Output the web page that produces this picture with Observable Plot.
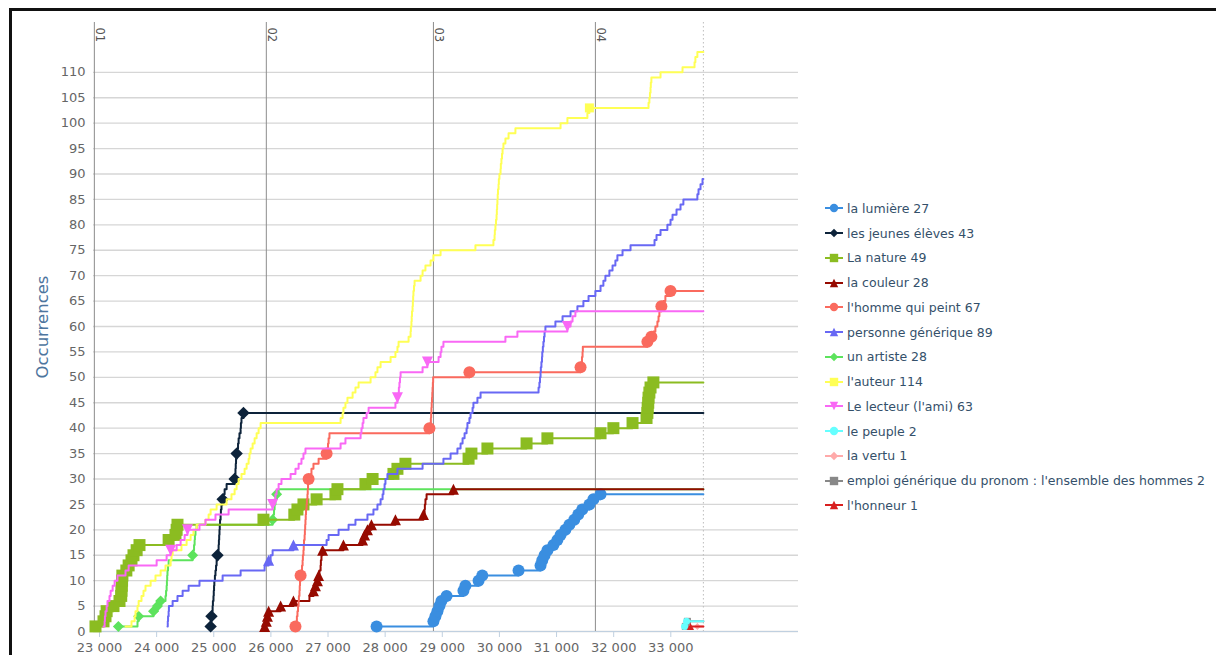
<!DOCTYPE html>
<html><head><meta charset="utf-8">
<script src="https://cdn.jsdelivr.net/npm/d3@7"></script>
<script src="https://cdn.jsdelivr.net/npm/@observablehq/plot@0.6"></script>
<style>
html,body{margin:0;padding:0;background:#fff;}
#wrap{position:relative;width:1216px;height:655px;overflow:hidden;font-family:"DejaVu Sans",sans-serif;background:#fff;}
#chart{position:absolute;left:0;top:0;}
#frame{position:absolute;left:9px;top:8px;width:1400px;height:800px;border-top:3px solid #111;border-left:3px solid #111;box-sizing:border-box;pointer-events:none;}
#legend{position:absolute;left:825px;top:196px;}
.item{height:24.75px;display:flex;align-items:center;font-size:12.5px;color:#34506a;white-space:nowrap;}
.item svg{margin-right:4px;flex:none;}
</style></head>
<body><div id="wrap"><div id="chart"></div><div id="legend"></div><div id="frame"></div></div>
<script>
// ---- data (word positions at which each series' cumulative count steps up) ----
const seriesNames = ["la lumière 27","les jeunes élèves 43","La nature 49","la couleur 28","l'homme qui peint 67","personne générique 89","un artiste 28","l'auteur 114","Le lecteur (l'ami) 63","le peuple 2","la vertu 1","emploi générique du pronom : l'ensemble des hommes 2","l'honneur 1"];

const lumiere = [27850,28845,28880,28915,28950,28985,29075,29370,29405,29635,29700,30335,30720,30750,30790,30840,30945,31015,31070,31155,31225,31310,31380,31450,31575,31645,31770];
const jeunesEleves = [24945,24950,24960,24970,24980,24985,24995,25000,25005,25010,25020,25030,25040,25050,25065,25075,25085,25090,25095,25100,25105,25110,25120,25125,25135,25155,25170,25190,25225,25365,25370,25380,25385,25390,25400,25415,25425,25435,25450,25470,25475,25485,25520];
const nature = [22930,23070,23105,23125,23245,23350,23380,23385,23390,23395,23400,23470,23510,23560,23595,23650,23700,24210,24330,24350,24365,25870,26410,26465,26570,26800,27130,27165,27655,27780,28145,28215,28355,29460,29510,29790,30475,30840,31770,31995,32330,32575,32590,32595,32605,32610,32625,32645,32695];
const couleur = [25890,25920,25940,25960,26170,26395,26675,26745,26780,26815,26835,26850,26870,26875,26885,26905,27270,27605,27640,27690,27760,28180,28670,28690,28695,28705,28725,29195];
const hommeQuiPeint = [26430,26450,26455,26465,26475,26485,26490,26500,26505,26510,26520,26535,26545,26555,26560,26570,26575,26580,26590,26595,26600,26605,26610,26615,26625,26630,26640,26645,26650,26660,26695,26710,26745,26835,26975,26990,27000,27010,27025,28775,28795,28800,28805,28810,28815,28820,28825,28830,28835,28840,29475,31420,31435,31445,31455,31460,32590,32660,32695,32730,32765,32785,32800,32835,32870,32905,32995];
const personneGenerique = [24190,24195,24200,24210,24215,24280,24365,24455,24560,24750,25155,25470,25890,25960,25995,26030,26395,26975,27010,27185,27360,27480,27690,27795,27865,27920,27955,27970,27990,28005,28040,28215,28655,29020,29145,29265,29320,29355,29390,29425,29440,29475,29495,29530,29545,29615,29670,30685,30700,30710,30720,30725,30735,30745,30750,30760,30770,30780,30790,30805,30980,31105,31245,31365,31470,31560,31680,31770,31820,31855,31925,31980,32030,32065,32155,32295,32715,32750,32820,32940,32995,33030,33100,33170,33220,33465,33485,33520,33555];
const unArtiste = [23330,23665,23685,23945,24015,24070,24155,24165,24175,24180,24185,24190,24200,24210,24630,24645,24655,24665,24670,24680,24700,26030,26045,26055,26065,26080,26100,26135];
const auteur = [23455,23560,23615,23630,23665,23685,23735,23770,23805,23895,23980,24070,24155,24245,24260,24280,24435,24525,24595,24645,24700,24855,24910,24945,25050,25225,25310,25365,25400,25435,25485,25540,25575,25610,25625,25645,25680,25715,25750,25785,25820,27220,27255,27270,27305,27340,27430,27480,27535,27745,27830,27865,27920,28095,28180,28215,28235,28410,28445,28450,28460,28465,28470,28480,28485,28490,28495,28505,28515,28620,28655,28705,28795,28845,28970,29580,29895,29915,29920,29930,29940,29950,29955,29960,29965,29970,29975,29985,29990,30000,30020,30025,30035,30045,30055,30070,30105,30160,30280,31070,31190,31540,31575,32610,32625,32635,32645,32650,32660,32820,33205,33415,33430,33465];
const lecteur = [23070,23090,23095,23105,23125,23140,23175,23195,23230,23265,23315,23455,23510,24000,24175,24245,24350,24420,24490,24540,24750,24855,25030,25260,26030,26065,26080,26100,26135,26185,26345,26430,26485,26535,26570,26605,27220,27305,27570,27585,27605,27620,27675,27710,28180,28215,28235,28240,28250,28260,28270,28655,28740,28935,28970,28985,29020,30105,30315,31190,31245,31280,31330];
const peuple = [33240,33275];
const vertu = [33465];
const emploiGenerique = [33255,33290];
const honneur = [33345];

// counts that carry a visible marker (null = every point)
const lumiereMarked = null;
const jeunesElevesMarked = [1,3,15,26,30,35,43];
const natureMarked = null;
const couleurMarked = [1,2,3,4,5,6,8,9,10,11,16,17,18,19,20,21,22,23,28];
const hommeMarked = [1,11,30,35,40,51,52,57,58,64,67];
const personneMarked = [14,17];
const artisteMarked = [1,3,4,5,6,15,22,27];
const auteurMarked = [103];
const lecteurMarked = [16,20,25,46,53,60];
const peupleMarked = null, vertuMarked = null, emploiMarked = null, honneurMarked = null;

const xEnd = 33570;                       // end of text (dotted line)
const plotLineLabels = ["01","02","03","04"];
const plotLinePos = [22910,25920,28845,31680];
const xTicks = [23000,24000,25000,26000,27000,28000,29000,30000,31000,32000,33000];
const yTicks = d3.range(0, 111, 5);

// ---- styles ----
const colors = ["#3a8ee0","#0d233a","#8bbc21","#960a00","#fa6a5e","#6868f4","#5de35d","#ffff55","#f968f5","#66ffff","#ffaaaa","#888888","#d82020"];
const symbolKinds = ["circle","diamond","square","triangle","circle","triangle","diamond","square","triangle-down","circle","diamond","square","triangle"];
const markerR = [6,6.2,6,5.5,6,5.5,5.5,4.5,5.5,3.5,3.5,3.5,3.5];
const steps = [lumiere,jeunesEleves,nature,couleur,hommeQuiPeint,personneGenerique,unArtiste,auteur,lecteur,peuple,vertu,emploiGenerique,honneur];
const marked = [lumiereMarked,jeunesElevesMarked,natureMarked,couleurMarked,hommeMarked,personneMarked,artisteMarked,auteurMarked,lecteurMarked,peupleMarked,vertuMarked,emploiMarked,honneurMarked];
const drawOrder = [6,0,1,2,3,4,5,7,8,11,10,9,12];

function hcSymbol(kind){
  return {draw(ctx, size){
    const r = Math.sqrt(size/Math.PI);
    if(kind==="circle"){ctx.moveTo(r,0);ctx.arc(0,0,r,0,2*Math.PI);}
    else if(kind==="square"){ctx.rect(-r,-r,2*r,2*r);}
    else if(kind==="diamond"){ctx.moveTo(0,-r);ctx.lineTo(r,0);ctx.lineTo(0,r);ctx.lineTo(-r,0);ctx.closePath();}
    else if(kind==="triangle"){ctx.moveTo(0,-r);ctx.lineTo(r,r);ctx.lineTo(-r,r);ctx.closePath();}
    else {ctx.moveTo(-r,-r);ctx.lineTo(r,-r);ctx.lineTo(0,r);ctx.closePath();}
  }};
}

const seriesMarks = [];
for (const i of drawOrder) {
  const pts = steps[i].map((x,k)=>({x, y:k+1}));
  const line = pts.concat([{x:xEnd, y:pts.length}]);
  const m = marked[i];
  const dots = m ? pts.filter(p=>m.includes(p.y)) : pts;
  seriesMarks.push(Plot.line(line,{x:"x",y:"y",curve:"step-after",stroke:colors[i],strokeWidth:2}));
  seriesMarks.push(Plot.dot(dots,{x:"x",y:"y",r:markerR[i],symbol:hcSymbol(symbolKinds[i]),fill:colors[i],stroke:"none"}));
}

const fmt = d => d3.format(",")(d).replace(/,/g," ");

const chart = Plot.plot({
  width:1216, height:655,
  marginLeft:93, marginRight:418, marginTop:22, marginBottom:24,
  x:{domain:[22895,35235]},
  y:{domain:[0,119.8]},
  style:{fontFamily:"DejaVu Sans", fontSize:"13px", background:"transparent", overflow:"visible"},
  marks:[
    Plot.gridY(yTicks,{stroke:"#d6d6d6",strokeOpacity:1,strokeWidth:1.3}),
    Plot.ruleX(plotLinePos,{stroke:"#8c8c8c",strokeWidth:1}),
    Plot.ruleX([xEnd],{stroke:"#bdbdbd",strokeDasharray:"1.5,2.5"}),
    Plot.ruleY([0],{stroke:"#c0d0e0"}),
    Plot.axisX(xTicks,{tickFormat:fmt,tickSize:6,tickPadding:5,stroke:"#c0d0e0",fill:"#666",label:null}),
    Plot.axisY(yTicks,{tickSize:0,tickPadding:8,fill:"#666",label:null}),
    Plot.text(plotLineLabels,{x:plotLinePos,frameAnchor:"top",rotate:90,textAnchor:"start",lineAnchor:"bottom",dx:2,dy:5,fill:"#555",fontSize:11.5}),
    Plot.text(["Occurrences"],{frameAnchor:"left",textAnchor:"middle",lineAnchor:"middle",dx:-51,rotate:-90,fontSize:16.5,fill:"#4d759e"}),
    ...seriesMarks
  ]
});
document.getElementById("chart").appendChild(chart);

// legend
const legend = document.getElementById("legend");
seriesNames.forEach((name,i)=>{
  const item = document.createElement("div");
  item.className = "item";
  const svg = d3.create("svg").attr("width",18).attr("height",12);
  svg.append("line").attr("x1",0).attr("x2",18).attr("y1",6).attr("y2",6).attr("stroke",colors[i]).attr("stroke-width",2);
  svg.append("path").attr("transform","translate(9,6)").attr("fill",colors[i])
     .attr("d", d3.symbol(hcSymbol(symbolKinds[i]), Math.PI*4.2*4.2)());
  item.appendChild(svg.node());
  const t = document.createElement("span");
  t.textContent = name;
  item.appendChild(t);
  legend.appendChild(item);
});
</script></body></html>
